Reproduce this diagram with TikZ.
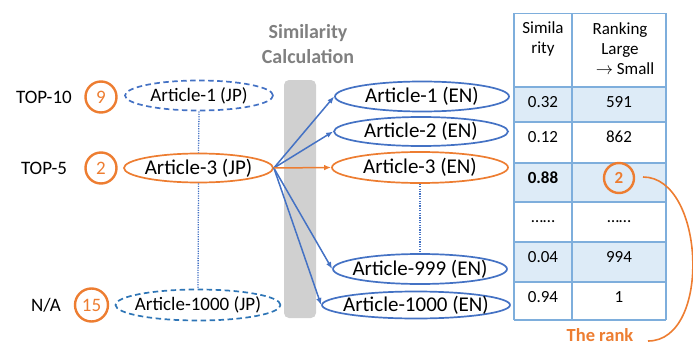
\documentclass[tikz,border=0pt]{standalone}
\usepackage{fontspec}
\setmainfont{Carlito}
\usetikzlibrary{shapes.geometric,arrows.meta}
\definecolor{artBlue}{HTML}{4472C4}
\definecolor{artDark}{HTML}{2E75B6}
\definecolor{artOrange}{HTML}{ED7D31}
\definecolor{barGray}{HTML}{D0D0D0}
\definecolor{calcGray}{HTML}{808080}
\definecolor{gridBlue}{HTML}{7EAEDC}
\definecolor{rowBlue}{HTML}{DDEBF7}
\tikzset{
  art/.style={ellipse, draw, line width=1.7pt, inner xsep=-8pt, inner ysep=-2pt, minimum height=29pt},
  jpdash/.style={art, minimum width=148pt, minimum height=30pt, dash pattern=on 5.5pt off 3.5pt, font=\fontsize{19}{23}\selectfont},
  jpsel/.style={art, draw=artOrange, minimum width=149pt, font=\fontsize{21}{25}\selectfont},
  en/.style={art, draw=artBlue, minimum width=174pt, minimum height=30pt, font=\fontsize{21}{25}\selectfont},
  lbl/.style={font=\fontsize{19}{23}\selectfont},
  numcirc/.style={circle, draw=artOrange, line width=2.4pt, text=artOrange, minimum size=31pt, inner sep=0pt, font=\fontsize{19}{23}\selectfont},
  dotline/.style={draw=artBlue, line width=1.3pt, dash pattern=on 1.2pt off 1.2pt},
  arr/.style={-{Latex[length=7pt,width=5.5pt]}, line width=1.5pt, color=artBlue},
  grid/.style={draw=gridBlue, line width=1.8pt},
  hdr/.style={align=center, font=\fontsize{17}{20}\selectfont},
  cell/.style={text height=11pt, text depth=0pt, inner sep=0pt, font=\fontsize{17}{20}\selectfont}
}
\begin{document}
\begin{tikzpicture}[x=1pt,y=-1pt]
\useasboundingbox (0,0) rectangle (693,345);
% similarity calculation bar
\fill[barGray, rounded corners=5pt] (284,80) rectangle (316,318);
\node[align=center, text=calcGray, font=\fontsize{20}{25}\selectfont\bfseries] (calc) at (308,44.5) {Similarity\\Calculation};

% japanese side
\node[lbl] (top10) at (44,97) {TOP-10};
\node[lbl] (top5) at (44,168) {TOP-5};
\node[lbl] (na) at (46,305) {N/A};
\node[numcirc] (c9) at (101,97) {9};
\node[numcirc] (c2) at (101,168) {2};
\node[numcirc, minimum size=33pt] (c15) at (91.5,305) {15};
\node[jpdash, draw=artBlue] (jp1) at (199,95.5) {Article-1 (JP)};
\node[jpsel] (jp3) at (198.5,168) {Article-3 (JP)};
\node[jpdash, draw=artDark, minimum width=165pt, minimum height=31pt] (jp1000) at (198,305) {Article-1000 (JP)};
\draw[dotline] (jp1.south) -- (jp3.north);
\draw[dotline] (jp3.south) -- (jp1000.north);

% english side
\node[en] (en1) at (422,96.5) {Article-1 (EN)};
\node[en, minimum height=29pt] (en2) at (421,131.5) {Article-2 (EN)};
\node[en, draw=artOrange, minimum width=176pt, minimum height=31pt] (en3) at (420,167.5) {Article-3 (EN)};
\node[en] (en999) at (420,269) {Article-999 (EN)};
\node[en, minimum width=188pt, minimum height=27pt] (en1000) at (416,305) {Article-1000 (EN)};
\draw[dotline] (en3.south) -- (en999.north);

\foreach \t in {en1,en2,en999,en1000} % blue arrows
\draw[arr] (jp3.east) -- (\t.west);
\draw[arr, color=artOrange] (jp3.east) -- (en3.west);

% table
\foreach \ya/\yb in {87/122,163/202,242/282} % shaded rows
\fill[rowBlue] (514,\ya) rectangle (666,\yb);
\foreach \y in {13.5,87,122,163,202,242,282,320}
\draw[grid] (514,\y) -- (666,\y);
\foreach \x in {514,572,666}
\draw[grid] (\x,13.5) -- (\x,320);
\node[hdr] (hsim) at (543,39) {Simila\\rity};
\node[hdr] (hrank) at (620,49) {Ranking\\Large\\\hspace*{10pt}$\rightarrow$ Small};
\foreach \y/\s/\r [count=\i] in {101.5/0.32/591, 136.5/0.12/862, 216.5/……/……, 256.5/0.04/994, 296.5/0.94/1}
{
\node[cell] (sim\i) at (543,\y) {\s};
\node[cell] (rank\i) at (619,\y) {\r};
}
\node[cell] (simtop) at (543,177.5) {\bfseries 0.88};
\node[numcirc, minimum size=30pt, font=\fontsize{17}{20}\selectfont\bfseries] (rankmark) at (619,178) {2};

% the rank
\node[text=artOrange, font=\fontsize{18.5}{22}\selectfont\bfseries] (rankname) at (600,335) {The rank};
\coordinate (bendTop) at (643,177);
\coordinate (bendEnd) at (648,341);
\draw[artOrange, line width=1.6pt] (bendTop) .. controls (705,177) and (712,341) .. (bendEnd);
\end{tikzpicture}
\end{document}
